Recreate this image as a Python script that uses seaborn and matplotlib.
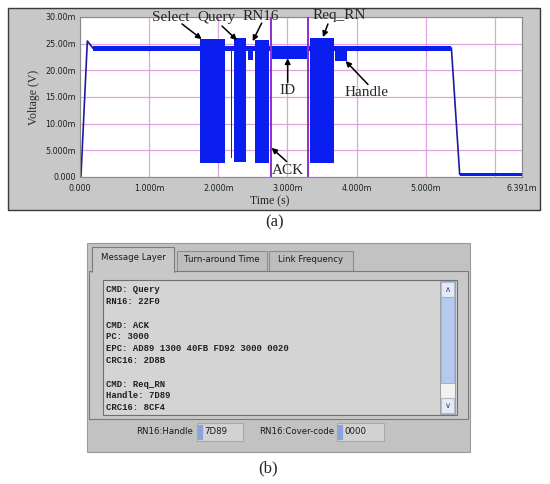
import matplotlib
matplotlib.use("Agg")
import matplotlib.pyplot as plt
from matplotlib.patches import Rectangle
import seaborn as sns

# ---- (a) captured waveform, time in ms, voltage in mV ----
# thin trace: power-up ramp, carrier plateau, power-down
trace_t = [0.0, 0.014, 0.106, 0.19, 5.37, 5.49, 6.391]
trace_v = [0.0, 0.1, 25.5, 24.1, 24.2, 0.5, 0.5]

# dense modulation renders as solid blue: start, end, low, high
band_t0 = [0.19, 1.73, 2.19, 2.22, 2.43, 2.53, 2.77, 3.33, 3.69, 5.49]
band_t1 = [5.37, 2.10, 2.20, 2.40, 2.50, 2.74, 3.28, 3.67, 3.86, 6.391]
band_lo = [23.7, 2.6, 3.5, 2.8, 22.0, 2.6, 22.2, 2.6, 21.8, 0.2]
band_hi = [24.6, 25.9, 24.5, 26.1, 24.6, 25.6, 24.6, 26.0, 24.6, 0.8]

cursor_t = [2.757, 3.29]

x_ticks = [0, 1, 2, 3, 4, 5, 6, 6.391]
x_labels = ["0.000", "1.000m", "2.000m", "3.000m", "4.000m", "5.000m", "", "6.391m"]
y_ticks = [0, 5, 10, 15, 20, 25, 30]
y_labels = ["0.000", "5.000m", "10.00m", "15.00m", "20.00m", "25.00m", "30.00m"]

notes = ["Select", "Query", "RN16", "Req_RN", "ID", "Handle", "ACK"]
note_at = [(1.316, 29.9), (1.98, 30.0), (2.617, 30.0), (3.744, 30.3),
           (3.0, 16.2), (4.142, 15.85), (3.007, 1.3)]
arrow_from = [(1.475, 28.7), (2.053, 28.3), (2.627, 28.87), (3.585, 28.68),
              (3.003, 17.7), (4.164, 17.36), (2.988, 2.89)]
arrow_to = [(1.759, 25.85), (2.27, 25.66), (2.497, 25.47), (3.513, 26.23),
            (3.003, 22.26), (3.84, 21.75), (2.77, 5.47)]

# ---- (b) reader GUI contents ----
tabs = ["Message Layer", "Turn-around Time", "Link Frequency"]
msg_lines = ["CMD: Query", "RN16: 22F0", "",
             "CMD: ACK", "PC: 3000", "EPC: AD89 1300 40FB FD92 3000 0020",
             "CRC16: 2D8B", "",
             "CMD: Req_RN", "Handle: 7D89", "CRC16: 8CF4"]
fields = ["RN16:Handle", "RN16:Cover-code"]
field_vals = ["7D89", "0000"]

sns.set_style("white")
plt.rcParams["font.family"] = ["DejaVu Sans"]

W, H = 550, 484
fig = plt.figure(figsize=(5.5, 4.84), dpi=100)

# background layer in pixel coordinates for the panels
bg = fig.add_axes([0, 0, 1, 1], zorder=0)
bg.set_xlim(0, W); bg.set_ylim(H, 0); bg.axis("off")


def box(x0, y0, x1, y1, fc, ec=None, lw=0.8):
    r = Rectangle((x0, y0), x1 - x0, y1 - y0, fc=fc, ec=ec or fc, lw=lw)
    bg.add_patch(r)
    return r


serif = "Liberation Serif"

# panel (a) frame
box(8, 8, 540, 210, "#c8c8c8", "#3a3a3a", 1.0)
bg.text(275, 222, "(a)", family=serif, fontsize=12, ha="center", va="center")

# plot area
ax = fig.add_axes([80 / W, 1 - 177 / H, 442 / W, 160 / H], zorder=1)
ax.set_facecolor("white")
blue = "#0b1ef0"
sns.lineplot(x=trace_t, y=trace_v, sort=False, color="#1c1ca0", lw=1.2, ax=ax, zorder=2)
for t0, t1, lo, hi in zip(band_t0, band_t1, band_lo, band_hi):
    ax.fill_between([t0, t1], lo, hi, color=blue, lw=0, zorder=3)
for t in cursor_t:
    ax.axvline(t, color="#8e2fc8", lw=1.4, zorder=4)

ax.set_xlim(0, 6.391); ax.set_ylim(0, 30)
ax.set_xticks(x_ticks, x_labels)
ax.set_yticks(y_ticks, y_labels)
ax.tick_params(length=0, labelsize=5.8, labelcolor="#202020")
ax.tick_params(axis="x", pad=5)
ax.tick_params(axis="y", pad=3)
ax.grid(color="#dfa3df", lw=0.9)
ax.set_axisbelow(True)
for s in ax.spines.values():
    s.set_color("#8a8a8a"); s.set_linewidth(0.8)
ax.set_xlabel("Time (s)", family=serif, fontsize=8.5)
ax.set_ylabel("Voltage (V)", family=serif, fontsize=8.5)
ax.xaxis.set_label_coords(0.43, -0.115)
ax.yaxis.set_label_coords(-0.09, 0.5)

for name, xy, tail, head in zip(notes, note_at, arrow_from, arrow_to):
    ax.text(*xy, name, family=serif, fontsize=11, ha="center", va="center", zorder=6)
    ax.annotate("", xy=head, xytext=tail, annotation_clip=False, zorder=6,
                arrowprops=dict(arrowstyle="-|>", color="black", lw=1.1,
                                mutation_scale=8, shrinkA=0, shrinkB=0))

# panel (b): tabbed message window
box(87, 243, 470, 452, "#c2c2c2", "#9a9a9a")
tab_x = [(92, 174), (177, 267), (269, 353)]
for i, (name, (x0, x1)) in enumerate(zip(tabs, tab_x)):
    if i:
        box(x0, 251, x1, 271, "#bdbdbd", "#8c8c8c")
    bg.text((x0 + x1) / 2, 260 if i else 258, name, fontsize=6.2,
            ha="center", va="center", color="#1a1a1a", zorder=3)
box(89, 271, 468, 419, "#c8c8c8", "#7a7a7a")
box(92, 247, 174, 272, "#c8c8c8", "#7a7a7a")
box(92.6, 269, 173.4, 274, "#c8c8c8")

tb = box(103, 280, 457, 415, "#d4d4d4", "#6e6e6e")
for i, line in enumerate(msg_lines):
    t = bg.text(106, 289.7 + i * 11.8, line, family="Liberation Mono",
                fontsize=6.4, weight="bold", color="#202020", va="center")
    t.set_clip_path(tb)

# scrollbar
box(440, 281, 455, 414, "#f2f2f2", "#a0a0a0")
box(441, 282, 454, 297, "#e4ebf7", "#b0bcd4")
box(441, 297, 454, 383, "#b6c9ee", "#9fb3de")
box(441, 398, 454, 413, "#e4ebf7", "#b0bcd4")
bg.text(447.5, 290, r"$\wedge$", fontsize=6, ha="center", va="center", color="#304878")
bg.text(447.5, 405, r"$\vee$", fontsize=6, ha="center", va="center", color="#304878")

field_x = [(193, 197, 243), (334, 337, 384)]
for name, val, (lx, x0, x1) in zip(fields, field_vals, field_x):
    bg.text(lx, 432, name, fontsize=6.2, ha="right", va="center", color="#1a1a1a")
    box(x0, 423, x1, 441, "#d2d2d2", "#a8a8a8")
    box(x0 + 0.5, 425, x0 + 5, 439, "#8aa4d8")
    bg.text(x0 + 7, 432, val, fontsize=6.2, ha="left", va="center", color="#1a1a1a")

bg.text(268, 468, "(b)", family=serif, fontsize=12, ha="center", va="center")

fig.savefig("out.png", dpi=100)
